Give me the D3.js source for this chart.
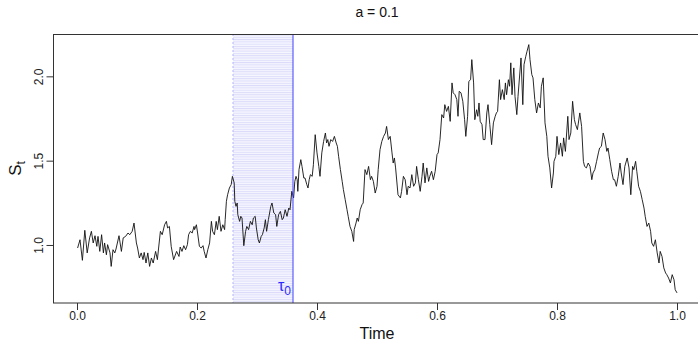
<!DOCTYPE html>
<html>
<head>
<meta charset="utf-8">
<script src="https://cdn.jsdelivr.net/npm/d3@7"></script>
<style>
  body { margin: 0; background: #fff; }
  svg { display: block; font-family: "Liberation Sans", Arial, Helvetica, sans-serif; }
</style>
</head>
<body>
<svg id="chart"></svg>
<script>
// sample times of the simulated path
const times = [
  0.001,0.005,0.009,0.013,0.017,0.021,0.024,0.027,0.030,0.033,
  0.035,0.038,0.041,0.044,0.046,0.049,0.051,0.055,0.057,0.060,
  0.063,0.065,0.070,0.074,0.077,0.081,0.085,0.088,0.092,0.095,
  0.099,0.101,0.104,0.107,0.110,0.112,0.115,0.118,0.121,0.124,
  0.127,0.131,0.134,0.136,0.139,0.142,0.146,0.149,0.151,0.154,
  0.157,0.161,0.166,0.170,0.172,0.175,0.178,0.181,0.184,0.186,
  0.189,0.192,0.195,0.196,0.199,0.201,0.204,0.207,0.210,0.212,
  0.215,0.218,0.221,0.224,0.226,0.229,0.232,0.234,0.237,0.240,
  0.243,0.246,0.247,0.249,0.251,0.254,0.257,0.259,0.262,0.263,
  0.265,0.267,0.268,0.271,0.273,0.275,0.278,0.281,0.283,0.286,
  0.289,0.292,0.294,0.297,0.299,0.302,0.304,0.307,0.309,0.312,
  0.314,0.316,0.319,0.323,0.325,0.328,0.331,0.333,0.336,0.339,
  0.342,0.344,0.347,0.350,0.353,0.355,0.358,0.361,0.363,0.365,
  0.367,0.368,0.370,0.373,0.375,0.378,0.380,0.383,0.385,0.387,
  0.389,0.392,0.394,0.397,0.400,0.403,0.405,0.408,0.411,0.414,
  0.416,0.418,0.420,0.423,0.426,0.429,0.432,0.434,0.436,0.439,
  0.442,0.444,0.447,0.450,0.452,0.455,0.458,0.461,0.462,0.465,
  0.467,0.469,0.472,0.475,0.477,0.480,0.483,0.486,0.489,0.491,
  0.494,0.497,0.500,0.502,0.505,0.508,0.511,0.514,0.516,0.519,
  0.522,0.525,0.527,0.529,0.531,0.535,0.539,0.541,0.544,0.547,
  0.550,0.552,0.555,0.558,0.561,0.564,0.566,0.569,0.572,0.575,
  0.577,0.580,0.583,0.586,0.588,0.591,0.594,0.597,0.600,0.602,
  0.605,0.608,0.611,0.613,0.616,0.619,0.622,0.625,0.627,0.630,
  0.633,0.635,0.637,0.640,0.643,0.646,0.648,0.651,0.653,0.656,
  0.658,0.661,0.663,0.666,0.668,0.670,0.672,0.675,0.677,0.680,
  0.683,0.685,0.688,0.691,0.694,0.697,0.699,0.701,0.704,0.706,
  0.709,0.712,0.714,0.716,0.719,0.721,0.723,0.725,0.728,0.730,
  0.733,0.735,0.740,0.743,0.745,0.748,0.750,0.753,0.755,0.758,
  0.760,0.763,0.766,0.769,0.772,0.774,0.777,0.780,0.783,0.785,
  0.788,0.791,0.794,0.795,0.798,0.800,0.803,0.806,0.809,0.811,
  0.814,0.818,0.820,0.823,0.826,0.829,0.831,0.834,0.838,0.841,
  0.844,0.846,0.849,0.852,0.855,0.858,0.860,0.863,0.866,0.869,
  0.871,0.874,0.877,0.880,0.883,0.885,0.888,0.891,0.894,0.896,
  0.899,0.902,0.905,0.907,0.910,0.913,0.917,0.920,0.923,0.926,
  0.928,0.931,0.933,0.936,0.939,0.942,0.945,0.947,0.950,0.953,
  0.956,0.958,0.961,0.964,0.967,0.970,0.972,0.975,0.978,0.981,
  0.983,0.986,0.989,0.992,0.995,0.997,1.000
];

// S_t at those times
const prices = [
  0.982,1.031,0.909,1.087,0.953,1.042,1.081,1.012,1.055,0.992,
  1.051,0.962,1.061,0.953,1.012,0.942,1.002,0.953,0.873,0.972,
  0.953,0.976,1.055,0.962,1.042,1.051,1.071,1.061,1.081,1.130,
  1.012,0.982,0.923,0.953,0.913,0.956,0.893,0.953,0.873,0.923,
  0.893,0.962,0.913,0.982,1.081,1.061,1.120,1.140,1.101,1.110,
  0.992,0.913,0.962,0.932,0.988,0.962,0.996,0.972,1.002,1.061,
  1.081,1.071,1.110,1.091,1.120,1.071,0.992,0.982,0.996,0.962,
  0.923,0.972,1.012,1.140,1.081,1.061,1.140,1.091,1.170,1.081,
  1.120,1.091,1.150,1.259,1.298,1.338,1.358,1.407,1.368,1.259,
  1.229,1.249,1.180,1.140,1.170,1.160,0.996,1.081,1.110,1.091,
  1.140,1.120,1.160,1.170,1.101,1.031,1.012,1.051,1.061,1.101,
  1.150,1.081,1.150,1.229,1.249,1.190,1.180,1.110,1.180,1.199,
  1.150,1.160,1.209,1.170,1.219,1.209,1.318,1.279,1.377,1.407,
  1.387,1.318,1.447,1.506,1.466,1.397,1.397,1.358,1.338,1.387,
  1.417,1.407,1.476,1.654,1.546,1.466,1.407,1.546,1.614,1.664,
  1.605,1.625,1.585,1.625,1.614,1.644,1.605,1.585,1.526,1.447,
  1.377,1.328,1.269,1.209,1.170,1.110,1.081,1.021,1.091,1.130,
  1.160,1.140,1.209,1.239,1.249,1.447,1.417,1.466,1.387,1.407,
  1.377,1.308,1.348,1.447,1.565,1.614,1.644,1.664,1.703,1.625,
  1.644,1.546,1.486,1.516,1.457,1.298,1.279,1.318,1.407,1.387,
  1.298,1.348,1.338,1.417,1.348,1.368,1.466,1.387,1.318,1.407,
  1.486,1.368,1.457,1.377,1.407,1.437,1.387,1.437,1.536,1.546,
  1.625,1.773,1.753,1.832,1.792,1.822,1.733,1.961,1.902,1.891,
  1.862,1.763,1.911,1.902,1.852,1.743,1.644,1.763,1.970,1.980,
  2.099,1.961,1.743,1.802,1.763,1.842,1.733,1.714,1.625,1.625,
  1.783,1.832,1.714,1.595,1.724,1.763,1.783,1.792,1.980,1.862,
  1.921,1.862,1.961,1.891,1.980,1.941,2.080,1.891,2.050,1.881,
  1.773,1.881,2.109,1.832,2.069,2.119,2.148,2.188,2.099,2.010,
  1.991,1.862,1.783,1.842,1.813,1.941,1.991,1.724,1.644,1.526,
  1.457,1.338,1.427,1.496,1.526,1.644,1.536,1.605,1.526,1.635,
  1.555,1.763,1.625,1.664,1.852,1.743,1.714,1.684,1.783,1.703,
  1.496,1.466,1.457,1.486,1.466,1.387,1.427,1.447,1.496,1.546,
  1.575,1.585,1.664,1.625,1.555,1.575,1.506,1.437,1.387,1.387,
  1.348,1.407,1.486,1.427,1.358,1.466,1.516,1.457,1.298,1.466,
  1.447,1.496,1.437,1.348,1.318,1.269,1.219,1.170,1.110,1.130,
  1.081,1.012,0.992,1.031,0.953,0.893,0.962,0.932,0.864,0.834,
  0.824,0.804,0.775,0.824,0.794,0.735,0.716
];

const xTicks = [0, 0.2, 0.4, 0.6, 0.8, 1.0];
const yTicks = [1.0, 1.5, 2.0];
const window0 = [0.26, 0.36];   // shaded interval
const tau0 = 0.36;
const xLim = [0, 1];
const yLim = [0.656, 2.251];

const width = 698, height = 343;
const margin = { top: 34, right: -3, bottom: 40, left: 53 };
const innerW = width - margin.left - margin.right;
const innerH = height - margin.top - margin.bottom;

// R style: 4% padding around xlim
const pad = (xLim[1] - xLim[0]) * 0.04;
const x = d3.scaleLinear()
  .domain([xLim[0] - pad, xLim[1] + pad])
  .range([margin.left, margin.left + innerW]);
const y = d3.scaleLinear()
  .domain(yLim)
  .range([margin.top + innerH, margin.top]);

const svg = d3.select('#chart')
  .attr('width', width)
  .attr('height', height);

const defs = svg.append('defs');
const hatch = defs.append('pattern')
  .attr('id', 'hatch')
  .attr('patternUnits', 'userSpaceOnUse')
  .attr('width', 8)
  .attr('height', 2.3);
hatch.append('rect')
  .attr('width', 8).attr('height', 2.3)
  .attr('fill', '#f6f6ff');
hatch.append('line')
  .attr('x1', 0).attr('x2', 8)
  .attr('y1', 0.5).attr('y2', 0.5)
  .attr('stroke', '#dcdcfa')
  .attr('stroke-width', 1);

// shaded band
svg.append('rect')
  .attr('x', x(window0[0]))
  .attr('y', margin.top)
  .attr('width', x(window0[1]) - x(window0[0]))
  .attr('height', innerH)
  .attr('fill', 'url(#hatch)');

svg.append('line')
  .attr('x1', x(window0[0])).attr('x2', x(window0[0]))
  .attr('y1', margin.top).attr('y2', margin.top + innerH)
  .attr('stroke', '#b4b4ff')
  .attr('stroke-dasharray', '2,2');

// the path
const line = d3.line()
  .x((d) => x(d[0]))
  .y((d) => y(d[1]));

svg.append('path')
  .datum(d3.zip(times, prices))
  .attr('fill', 'none')
  .attr('stroke', '#111')
  .attr('stroke-width', 0.9)
  .attr('stroke-linejoin', 'round')
  .attr('d', line);

// tau0 marker
svg.append('line')
  .attr('x1', x(tau0)).attr('x2', x(tau0))
  .attr('y1', margin.top).attr('y2', margin.top + innerH)
  .attr('stroke', '#4040ff')
  .attr('stroke-width', 1);

const tauLabel = svg.append('text')
  .attr('x', x(tau0) - 2)
  .attr('y', margin.top + innerH - 12)
  .attr('text-anchor', 'end')
  .attr('fill', '#2a2aff')
  .attr('font-size', 16)
  .text('τ');
tauLabel.append('tspan')
  .attr('dy', 4)
  .attr('font-size', 12)
  .text('0');

// box
svg.append('rect')
  .attr('x', margin.left + 0.5)
  .attr('y', margin.top + 0.5)
  .attr('width', innerW)
  .attr('height', innerH - 0.5)
  .attr('fill', 'none')
  .attr('stroke', '#333')
  .attr('stroke-width', 1);

// axes
const axisX = d3.axisBottom(x)
  .tickValues(xTicks)
  .tickFormat(d3.format('.1f'))
  .tickSize(7)
  .tickPadding(1);

const gx = svg.append('g')
  .attr('class', 'axis x')
  .attr('transform', `translate(0, ${ margin.top + innerH })`)
  .call(axisX);
gx.select('.domain').remove();
gx.selectAll('line').attr('stroke', '#333');
gx.selectAll('text')
  .attr('font-size', 12)
  .attr('fill', '#222')
  .attr('font-family', null);

const axisY = d3.axisLeft(y)
  .tickValues(yTicks)
  .tickFormat(d3.format('.1f'))
  .tickSize(7);

const gy = svg.append('g')
  .attr('class', 'axis y')
  .attr('transform', `translate(${ margin.left + 0.5 }, 0)`)
  .call(axisY);
gy.select('.domain').remove();
gy.selectAll('line').attr('stroke', '#333');
gy.selectAll('text')
  .attr('font-size', 12)
  .attr('fill', '#222')
  .attr('font-family', null)
  .attr('text-anchor', 'middle')
  .attr('x', null)
  .attr('dy', null)
  .attr('transform', 'translate(-11, 0) rotate(-90)');

// labels
const midX = (x.range()[0] + x.range()[1]) / 2;

svg.append('text')
  .attr('x', midX)
  .attr('y', 17)
  .attr('text-anchor', 'middle')
  .attr('font-size', 14)
  .attr('fill', '#111')
  .text('a = 0.1');

svg.append('text')
  .attr('x', midX)
  .attr('y', 339)
  .attr('text-anchor', 'middle')
  .attr('font-size', 16)
  .attr('fill', '#111')
  .text('Time');

const yLabel = svg.append('text')
  .attr('transform', `translate(21, ${ margin.top + innerH / 2 }) rotate(-90)`)
  .attr('text-anchor', 'middle')
  .attr('font-size', 17)
  .attr('fill', '#111')
  .text('S');
yLabel.append('tspan')
  .attr('dy', 4)
  .attr('font-size', 12)
  .text('t');
</script>
</body>
</html>
